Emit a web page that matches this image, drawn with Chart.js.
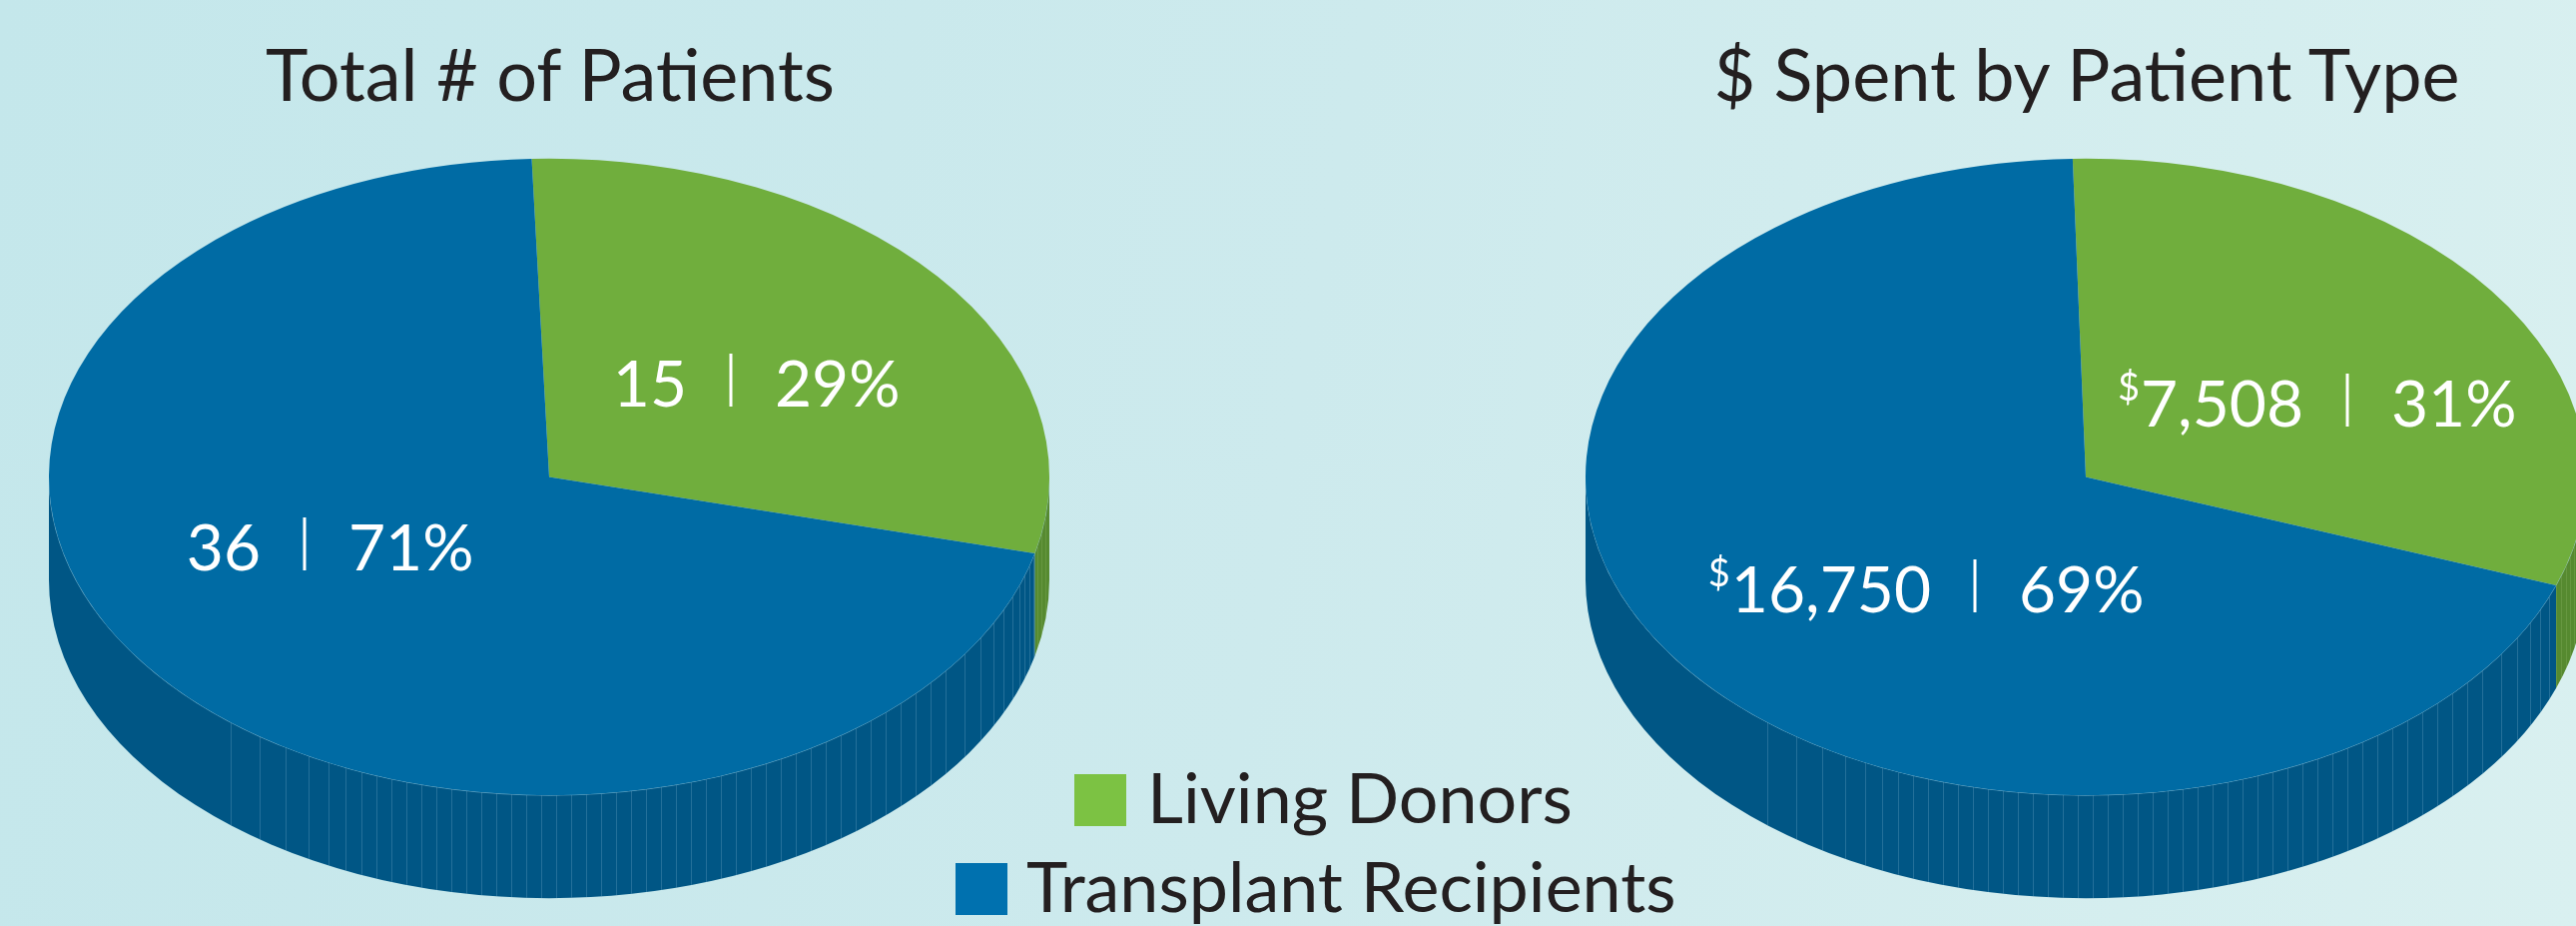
<!DOCTYPE html>
<html>
<head>
<meta charset="utf-8">
<title>Patients and spend by patient type</title>
<script src="https://cdn.jsdelivr.net/npm/chart.js@4"></script>
<style>
  html, body { margin: 0; padding: 0; }
  body {
    position: relative; width: 2580px; height: 927px; overflow: hidden;
    background: linear-gradient(100deg, #c4e7eb 0%, #cdeaed 50%, #d9f0f0 100%);
    font-family: Lato, sans-serif; color: #231f20;
  }
  canvas { position: absolute; top: 0; }
  .title, .legend-text { position: absolute; line-height: 84px; white-space: nowrap; }
  .title { font-size: 72px; transform: translateX(-50%); top: 31px; }
  .legend-text { font-size: 70px; }
  .legend-box { position: absolute; width: 52px; height: 52px; }
</style>
</head>
<body>
<canvas id="patients" width="1002" height="1002" style="left:49px"></canvas>
<canvas id="spent" width="1002" height="1002" style="left:1588px"></canvas>
<div id="legend"></div>
<script>
const categories = ['Living Donors', 'Transplant Recipients'];
const patientCounts = [15, 36];
const dollarsSpent = [7508, 16750];
const titles = ['Total # of Patients', '$ Spent by Patient Type'];

const topColors = ['#70ae3d', '#006ba4'];
const wallColors = ['#568a30', '#005685'];
const legendColors = ['#7cc243', '#0071af'];

// flattening of the fake 3d look
const CY = 477.5;
const RATIO = 0.636;
const DEPTH = 103;

// wall facets are not evenly spaced in the original, wider on the left, tight at the far right
function facetStep(u) {
  if (u < -200) return 15 + (-u - 200) * 0.12;
  if (u < 384) return 15;
  return Math.max(4, 22 - (u - 384) * 0.19);
}

function arcBand(ctx, x, rx, ry, a, b) {
  ctx.beginPath();
  ctx.ellipse(x, CY, rx, ry, 0, a, b);
  ctx.ellipse(x, CY + DEPTH, rx, ry, 0, b, a, true);
  ctx.closePath();
}

const pie3d = {
  id: 'pie3d',
  beforeDatasetsDraw(chart) {
    const ctx = chart.ctx;
    const arcs = chart.getDatasetMeta(0).data;
    const first = arcs[0].getProps(['x', 'y', 'outerRadius']);
    const rx = first.outerRadius;
    const ry = rx * RATIO;

    arcs.forEach((arc, i) => {
      const p = arc.getProps(['startAngle', 'endAngle']);
      // only the front half of the rim shows, 0 is the right edge
      let a = Math.max(p.startAngle, 0);
      let b = Math.min(p.endAngle, Math.PI);
      if (b <= a) return;
      ctx.save();
      arcBand(ctx, first.x, rx, ry, a, b);
      ctx.fillStyle = wallColors[i];
      ctx.fill();
      ctx.clip();
      ctx.strokeStyle = i === 0 ? 'rgba(170,205,130,.2)' : 'rgba(150,195,220,.24)';
      ctx.lineWidth = 1;
      let u = -319;
      while (u < rx) {
        const px = Math.round(first.x + u) + 0.5;
        const yTop = CY + ry * Math.sqrt(Math.max(0, 1 - u * u / (rx * rx)));
        ctx.beginPath();
        ctx.moveTo(px, yTop);
        ctx.lineTo(px, yTop + DEPTH);
        ctx.stroke();
        u += facetStep(u);
      }
      ctx.restore();
      // light seam along the top edge
      ctx.beginPath();
      ctx.ellipse(first.x, CY, rx, ry, 0, a, b);
      ctx.strokeStyle = 'rgba(150,200,220,.55)';
      ctx.lineWidth = 1;
      ctx.stroke();
    });

    ctx.save();
    ctx.translate(first.x, CY);
    ctx.scale(1, RATIO);
    ctx.translate(-first.x, -first.y);
  },
  afterDatasetsDraw(chart) {
    chart.ctx.restore();
  }
};

const sliceLabels = {
  id: 'sliceLabels',
  afterDraw(chart, args, opts) {
    const ctx = chart.ctx;
    const values = chart.data.datasets[0].data;
    const total = values.reduce((s, v) => s + v, 0);
    const font = '64px Lato, sans-serif';
    ctx.save();
    ctx.fillStyle = '#fff';
    ctx.textBaseline = 'alphabetic';
    values.forEach((v, i) => {
      const bar = opts.bars[i];
      const x = bar[0] - chart.canvas.offsetLeft;
      const y = bar[1];
      const valueText = v.toLocaleString('en-US');
      const pctText = Math.round(v / total * 100) + '%';
      ctx.font = font;
      ctx.textAlign = 'right';
      ctx.fillText(valueText, x - 44, y);
      const w = ctx.measureText(valueText).width;
      ctx.textAlign = 'left';
      ctx.fillText(pctText, x + 44, y);
      ctx.fillRect(x - 1.5, y - 53, 3, 53);
      if (opts.prefix) {
        ctx.font = '38px Lato, sans-serif';
        ctx.textAlign = 'right';
        ctx.fillText(opts.prefix, x - 44 - w - 1, y - 26);
      }
    });
    ctx.restore();
  }
};

function makePie(id, values, rotation, prefix, bars) {
  return new Chart(document.getElementById(id), {
    type: 'pie',
    data: {
      labels: categories,
      datasets: [{ data: values, backgroundColor: topColors, borderWidth: 0 }]
    },
    options: {
      responsive: false,
      animation: false,
      rotation: rotation,
      layout: { padding: 0 },
      events: [],
      plugins: {
        legend: { display: false },
        tooltip: { enabled: false },
        sliceLabels: { prefix: prefix, bars: bars }
      }
    },
    plugins: [pie3d, sliceLabels]
  });
}

// label separator positions, page x and baseline y
makePie('patients', patientCounts, -2, '', [[732, 407], [305, 571]]);
makePie('spent', dollarsSpent, -1.5, '$', [[2351, 427], [1978, 613]]);

// titles and legend
[551, 2090].forEach((x, i) => {
  const el = document.createElement('div');
  el.className = 'title';
  el.style.left = x + 'px';
  el.textContent = titles[i];
  document.body.appendChild(el);
});

const legendRows = [
  { box: [1076, 775], text: [1149, 755] },
  { box: [957, 864], text: [1028, 844] }
];
categories.forEach((name, i) => {
  const row = legendRows[i];
  const box = document.createElement('div');
  box.className = 'legend-box';
  box.style.left = row.box[0] + 'px';
  box.style.top = row.box[1] + 'px';
  box.style.background = legendColors[i];
  const label = document.createElement('div');
  label.className = 'legend-text';
  label.style.left = row.text[0] + 'px';
  label.style.top = row.text[1] + 'px';
  label.textContent = name;
  document.getElementById('legend').append(box, label);
});
</script>
</body>
</html>
